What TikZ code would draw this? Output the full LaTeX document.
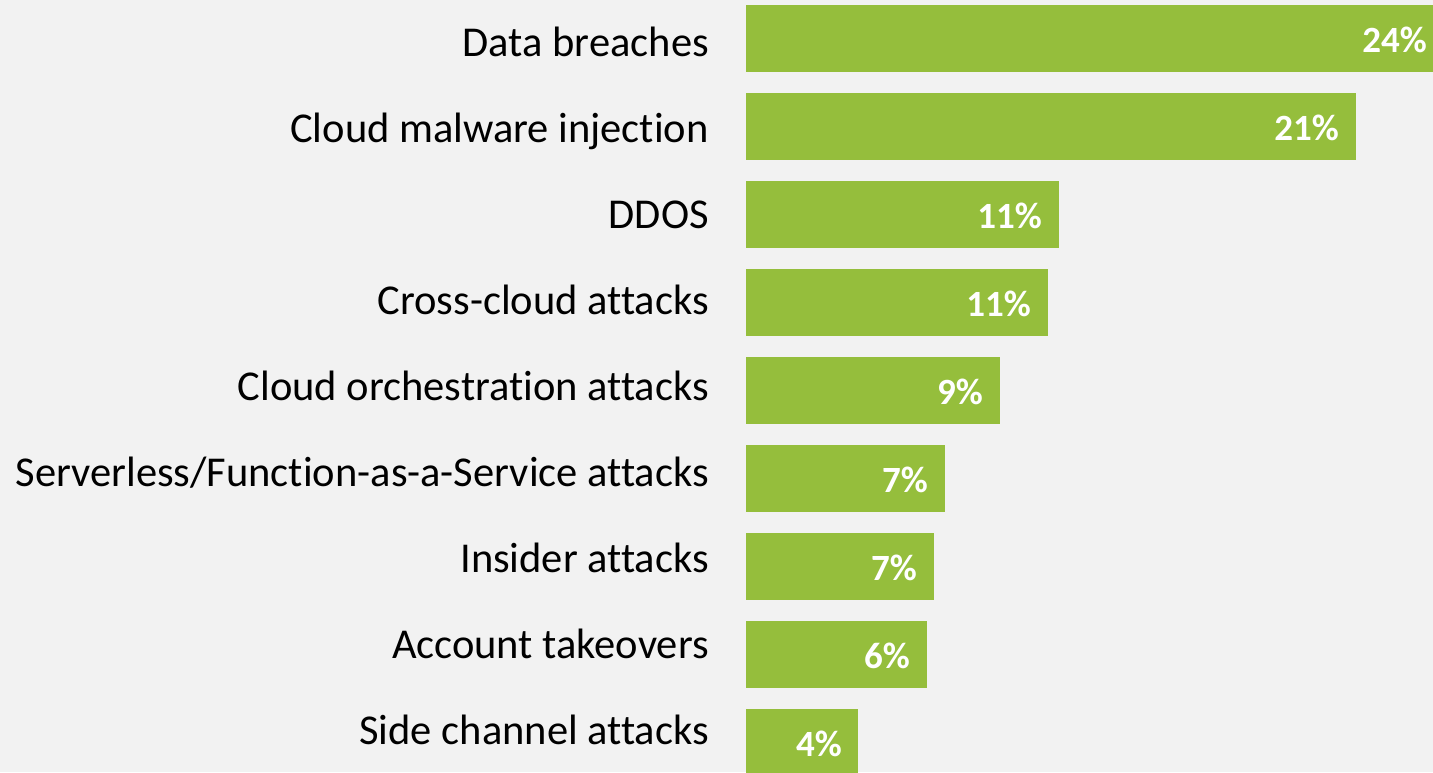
\documentclass[tikz,border=0pt]{standalone}
\usepackage{fontspec}
\setmainfont{Carlito}[Ligatures=NoCommon]
\definecolor{bg}{HTML}{F2F2F2}
\definecolor{bargreen}{HTML}{95BE3C}
\begin{document}
\begin{tikzpicture}[x=1pt,y=-1pt,
  bar/.style={fill=bargreen,draw=none},
  cat/.style={anchor=base east,inner sep=0pt,font=\fontsize{42.5}{50}\selectfont,text=black},
  val/.style={anchor=base east,inner sep=0pt,font=\bfseries\fontsize{37}{44}\selectfont,text=white}]
\fill[bg] (0,0) rectangle (1433,772);
\useasboundingbox (0,0) rectangle (1433,772);
\foreach \i/\lab/\r/\v/\tx in {
  0/Data breaches/1440/24\%/1427,
  1/Cloud malware injection/1356/21\%/1339,
  2/DDOS/1059/11\%/1042,
  3/Cross-cloud attacks/1048/11\%/1031,
  4/Cloud orchestration attacks/1000/9\%/983,
  5/Serverless\slash Function-as-a-Service attacks/945/7\%/928,
  6/Insider attacks/934/7\%/917,
  7/Account takeovers/927/6\%/910,
  8/Side channel attacks/858/4\%/842} {
  \pgfmathsetmacro{\yt}{5+88*\i}
  \pgfmathsetmacro{\yl}{56+86.1*\i}
  \path[bar] (746,\yt) rectangle (\r,\yt+67);
  \node[cat] (c\i) at (709,\yl) {\lab};
  \node[val] (v\i) at (\tx,\yt+47) {\v};
}
\end{tikzpicture}
\end{document}
